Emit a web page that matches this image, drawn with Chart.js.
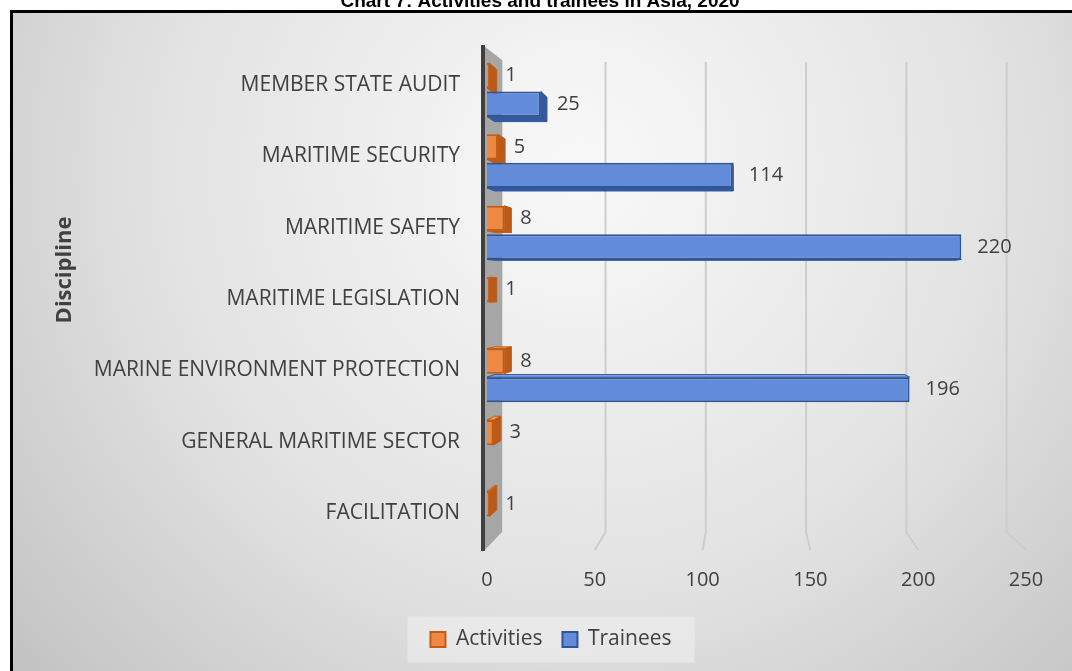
<!DOCTYPE html>
<html lang="en">
<head>
  <meta charset="UTF-8" />
  <title>Chart 7: Activities and trainees in Asia, 2020</title>
  <style>
    html, body {
      margin: 0;
      padding: 0;
      background-color: white;
    }
    #wrap {
      position: relative;
      width: 1072px;
      height: 671px;
    }
  </style>
  <script src="https://cdn.jsdelivr.net/npm/chart.js"></script>
</head>
<body>
  <div id="wrap">
    <canvas id="chart" width="1072" height="671"></canvas>
  </div>

  <script>
    const chartTitle = 'Chart 7: Activities and trainees in Asia, 2020';
    const axisTitle = 'Discipline';
    const disciplines = [
      'MEMBER STATE AUDIT',
      'MARITIME SECURITY',
      'MARITIME SAFETY',
      'MARITIME LEGISLATION',
      'MARINE ENVIRONMENT PROTECTION',
      'GENERAL MARITIME SECTOR',
      'FACILITATION'
    ];
    const activities = [1, 5, 8, 1, 8, 3, 1];
    const trainees = [25, 114, 220, null, 196, null, null];
    const xMin = 0;
    const xMax = 250;
    const xStep = 50;

    const textColor = '#404040';
    const fontFamily = "'Open Sans', 'DejaVu Sans', sans-serif";
    // colours for the fake 3D faces: [side, top]
    const faceColors = {
      Activities: ['#b9591a', '#f4a56f'],
      Trainees: ['#34599f', '#86a7e6']
    };

    // perspective helpers (vanishing point inside the plot)
    function vanish(area) {
      return {
        x: area.left + (area.right - area.left) * 0.485,
        y: area.top + (area.bottom - area.top) * 0.472
      };
    }

    // Grey gradient panel, black frame, title, axis title and legend box.
    const backgroundPlugin = {
      id: 'backgroundPlugin',
      afterLayout: (chart) => {
        // the original legend sits a bit right of centre
        chart.legend.left += 14;
        chart.legend.right += 14;
      },
      beforeDraw: (chart) => {
        const ctx = chart.ctx;
        const w = chart.width, h = chart.height;
        ctx.save();
        ctx.fillStyle = 'white';
        ctx.fillRect(0, 0, w, h);
        const g = ctx.createRadialGradient(580, 170, 20, 580, 170, 760);
        g.addColorStop(0, '#f8f8f8');
        g.addColorStop(0.55, '#e2e2e2');
        g.addColorStop(1, '#c2c2c2');
        ctx.fillStyle = g;
        ctx.fillRect(11, 12, w, h);
        ctx.lineWidth = 3;
        ctx.strokeStyle = 'black';
        ctx.strokeRect(11.5, 11.5, w + 10, h + 10);

        ctx.fillStyle = 'black';
        ctx.font = "bold 19px 'Liberation Sans', Arial, sans-serif";
        ctx.textAlign = 'center';
        ctx.textBaseline = 'alphabetic';
        ctx.fillText(chartTitle, 540, 7);

        // rotated axis title
        ctx.save();
        ctx.translate(65, 270);
        ctx.rotate(-Math.PI / 2);
        ctx.fillStyle = textColor;
        ctx.font = 'bold 22px ' + fontFamily;
        ctx.textBaseline = 'middle';
        ctx.fillText(axisTitle, 0, 0);
        ctx.restore();

        // light box behind the legend
        const boxes = chart.legend && chart.legend.legendHitBoxes;
        if (boxes && boxes.length) {
          let l = Infinity, r = -Infinity, cy = 0;
          boxes.forEach(b => {
            l = Math.min(l, b.left);
            r = Math.max(r, b.left + b.width);
            cy = b.top + b.height / 2;
          });
          ctx.fillStyle = 'rgba(240, 240, 240, 0.55)';
          ctx.fillRect(l - 23, cy - 23, r - l + 46, 46);
        }
        ctx.restore();
      }
    };

    // Back wall, floor-bent gridlines, the left wall panel and bar depth.
    const wallPlugin = {
      id: 'wallPlugin',
      beforeDatasetsDraw: (chart) => {
        const ctx = chart.ctx;
        const xs = chart.scales.x;
        const area = chart.chartArea;
        const vp = vanish(area);
        const topY = area.top + 8;
        const backFloor = area.bottom - 22;
        const frontFloor = area.bottom - 4;
        ctx.save();
        ctx.lineWidth = 2;
        ctx.strokeStyle = '#cdcdcd';
        xs.ticks.forEach(t => {
          if (t.value === xMin) return;
          const f = xs.getPixelForValue(t.value);
          const b = vp.x + (f - vp.x) / 1.075;
          ctx.beginPath();
          ctx.moveTo(b, topY);
          ctx.lineTo(b, backFloor);
          ctx.lineTo(f, frontFloor);
          ctx.stroke();
        });

        const x0 = xs.getPixelForValue(xMin);
        ctx.fillStyle = '#a6a6a6';
        ctx.beginPath();
        ctx.moveTo(x0 - 3, area.top - 8);
        ctx.lineTo(x0 + 15, topY - 2);
        ctx.lineTo(x0 + 15, backFloor);
        ctx.lineTo(x0 - 3, frontFloor + 1);
        ctx.closePath();
        ctx.fill();
        ctx.strokeStyle = '#d9d9d9';
        ctx.lineWidth = 1;
        ctx.beginPath();
        ctx.moveTo(x0 + 15.5, topY - 2);
        ctx.lineTo(x0 + 15.5, backFloor);
        ctx.stroke();

        ctx.strokeStyle = '#404040';
        ctx.lineWidth = 4;
        ctx.beginPath();
        ctx.moveTo(x0 - 4, area.top - 9);
        ctx.lineTo(x0 - 4, frontFloor + 1);
        ctx.stroke();

        // depth faces of the bars, the library draws the front face on top
        const k = 1.03;
        const proj = (px, py) => [vp.x + (px - vp.x) / k, vp.y + (py - vp.y) / k];
        const quad = (pts, fill, stroke) => {
          ctx.beginPath();
          ctx.moveTo(pts[0][0], pts[0][1]);
          for (let i = 1; i < pts.length; i++) ctx.lineTo(pts[i][0], pts[i][1]);
          ctx.closePath();
          ctx.fillStyle = fill;
          ctx.fill();
          ctx.strokeStyle = stroke;
          ctx.lineWidth = 1;
          ctx.stroke();
        };
        chart.data.datasets.forEach((ds, i) => {
          const meta = chart.getDatasetMeta(i);
          const [side, top] = faceColors[ds.label];
          meta.data.forEach((bar, j) => {
            if (ds.data[j] === null || ds.data[j] === undefined) return;
            const x0b = bar.base, x1b = bar.x;
            const y0 = bar.y - bar.height / 2, y1 = bar.y + bar.height / 2;
            const p00 = proj(x0b, y0), p10 = proj(x1b, y0);
            const p01 = proj(x0b, y1), p11 = proj(x1b, y1);
            if (p00[1] < y0) quad([[x0b, y0], [x1b, y0], p10, p00], top, ds.borderColor);
            if (p01[1] > y1) quad([[x0b, y1], [x1b, y1], p11, p01], side, ds.borderColor);
            if (p10[0] > x1b) quad([[x1b, y0], p10, p11, [x1b, y1]], side, ds.borderColor);
          });
        });
        ctx.restore();
      }
    };

    // Value labels to the right of each bar.
    const valueLabelPlugin = {
      id: 'valueLabelPlugin',
      afterDatasetsDraw: (chart) => {
        const ctx = chart.ctx;
        ctx.save();
        ctx.fillStyle = textColor;
        ctx.font = '20px ' + fontFamily;
        ctx.textAlign = 'left';
        ctx.textBaseline = 'middle';
        chart.data.datasets.forEach((ds, i) => {
          const meta = chart.getDatasetMeta(i);
          meta.data.forEach((bar, j) => {
            const v = ds.data[j];
            if (v === null || v === undefined) return;
            ctx.fillText(String(v), bar.x + 16, bar.y);
          });
        });
        ctx.restore();
      }
    };

    const ctx = document.getElementById('chart').getContext('2d');
    new Chart(ctx, {
      type: 'bar',
      data: {
        labels: disciplines,
        datasets: [
          {
            label: 'Activities',
            data: activities,
            backgroundColor: '#ef8843',
            borderColor: '#c55a11',
            borderWidth: 2,
            categoryPercentage: 0.8,
            barPercentage: 0.88
          },
          {
            label: 'Trainees',
            data: trainees,
            backgroundColor: '#628cda',
            borderColor: '#2f5597',
            borderWidth: 2,
            categoryPercentage: 0.8,
            barPercentage: 0.88
          }
        ]
      },
      options: {
        indexAxis: 'y',
        responsive: false,
        animation: false,
        layout: { padding: { top: 54, left: 48, right: 46, bottom: 11 } },
        plugins: {
          title: { display: false },
          tooltip: { enabled: false },
          legend: {
            position: 'bottom',
            labels: {
              boxWidth: 15,
              boxHeight: 15,
              padding: 20,
              color: textColor,
              font: { family: fontFamily, size: 21 }
            }
          }
        },
        scales: {
          x: {
            min: xMin,
            max: xMax,
            grid: { display: false, drawTicks: false },
            border: { display: false },
            ticks: {
              stepSize: xStep,
              padding: 14,
              color: textColor,
              font: { family: fontFamily, size: 20 }
            },
            afterFit: (scale) => { scale.height = 55; }
          },
          y: {
            grid: { display: false, drawTicks: false },
            border: { display: false },
            ticks: {
              padding: 27,
              labelOffset: -5,
              color: textColor,
              font: { family: fontFamily, size: 21 }
            },
            afterFit: (scale) => { scale.width = 487 - 48; }
          }
        }
      },
      plugins: [backgroundPlugin, wallPlugin, valueLabelPlugin]
    });
  </script>
</body>
</html>
